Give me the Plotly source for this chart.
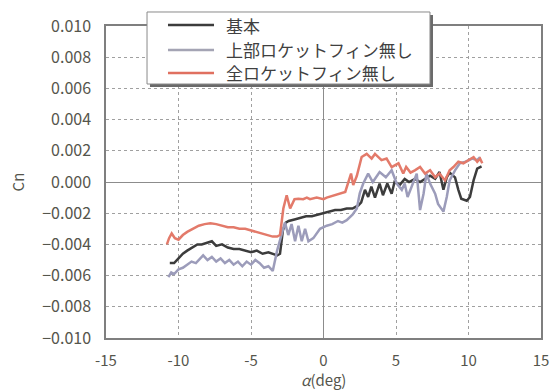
import plotly.graph_objects as go

# 基本
x_base = [-10.6, -10.3, -10.0, -9.7, -9.4, -9.0, -8.7, -8.4, -8.0, -7.7, -7.4, -7.0, -6.6, -6.2,
          -5.8, -5.4, -5.0, -4.6, -4.2, -3.8, -3.5, -3.2, -3.0, -2.8, -2.6, -2.4, -2.0, -1.6,
          -1.2, -0.8, -0.4, 0.0, 0.4, 0.8, 1.2, 1.6, 2.0, 2.4, 2.6, 2.86, 3.08, 3.3, 3.55, 3.87,
          4.1, 4.4, 4.7, 4.9, 5.25, 5.6, 5.9, 6.3, 6.66, 7.0, 7.35, 7.7, 8.0, 8.27, 8.5, 8.7,
          9.07, 9.3, 9.5, 9.88, 10.1, 10.35, 10.6, 10.9]
y_base = [-0.0052, -0.0052, -0.0049, -0.0046, -0.0044, -0.0042, -0.0040, -0.0040, -0.0039,
          -0.0038, -0.0041, -0.0040, -0.0042, -0.0043, -0.0043, -0.0044, -0.0045, -0.0044,
          -0.0046, -0.0045, -0.0046, -0.0047, -0.0046, -0.0031, -0.0026, -0.0025, -0.0024,
          -0.0023, -0.0022, -0.0022, -0.0021, -0.0020, -0.0019, -0.0018, -0.0018, -0.0017,
          -0.0017, -0.0015, -0.0013, -0.0005, -0.00096, -0.0003, -0.0010, -0.0001, -0.00085,
          -0.0001, -0.00075, 0.0, -0.0002, 0.0002, 0.0, 0.0002, 0.0, 0.0002, 0.0004, 0.0002,
          0.00064, -0.0005, 0.0003, 0.0006, 0.0003, -0.0005, -0.00107, -0.0012, -0.00096,
          0.0001, 0.00086, 0.0010]

# 上部ロケットフィン無し
x_upper = [-10.7, -10.5, -10.3, -10.0, -9.7, -9.4, -9.1, -8.8, -8.5, -8.3, -8.0, -7.7, -7.4,
           -7.1, -6.8, -6.5, -6.2, -5.9, -5.6, -5.3, -5.0, -4.7, -4.4, -4.1, -3.8, -3.5, -3.2,
           -2.9, -2.66, -2.43, -2.2, -1.96, -1.73, -1.5, -1.27, -1.04, -0.7, -0.24, 0.22, 0.6,
           1.0, 1.3, 1.6, 2.0, 2.3, 2.5, 2.74, 3.08, 3.4, 3.87, 4.3, 4.7, 5.05, 5.4, 5.6, 5.8,
           6.1, 6.43, 6.66, 6.9, 7.1, 7.35, 7.7, 7.9, 8.27, 8.5, 8.7, 9.07, 9.4, 9.8, 10.25,
           10.6, 10.8]
y_upper = [-0.0061, -0.0058, -0.0059, -0.0056, -0.0055, -0.0053, -0.0051, -0.0052, -0.0049,
           -0.0047, -0.0050, -0.0048, -0.0051, -0.0049, -0.0052, -0.0050, -0.0053, -0.0051,
           -0.0054, -0.0051, -0.0053, -0.0050, -0.0052, -0.0055, -0.0054, -0.0057, -0.0044,
           -0.0033, -0.0026, -0.0034, -0.0027, -0.0038, -0.0028, -0.0038, -0.0030, -0.0038,
           -0.0036, -0.0030, -0.0028, -0.0027, -0.0025, -0.0026, -0.00245, -0.0021, -0.0017,
           -0.00073, -0.0001, 0.00054, 0.0, 0.00064, 0.0003, 0.00075, -0.0001, -0.0005,
           -0.0001, -0.00096, -0.0002, 0.00054, -0.0018, -0.00075, 0.00054, -0.0001, -0.00075,
           -0.0014, -0.0019, -0.00096, 0.0001, 0.00075, 0.0012, 0.0013, 0.0015, 0.0014, 0.0016]

# 全ロケットフィン無し
x_all = [-10.8, -10.65, -10.47, -10.25, -10.0, -9.7, -9.4, -9.0, -8.6, -8.2, -7.8, -7.4, -7.0,
         -6.6, -6.2, -5.8, -5.4, -5.0, -4.6, -4.2, -3.8, -3.5, -3.2, -3.0, -2.77, -2.54, -2.3,
         -2.0, -1.73, -1.4, -1.15, -0.93, -0.47, 0.0, 0.22, 0.6, 1.0, 1.5, 1.9, 2.05, 2.3, 2.63,
         2.98, 3.32, 3.55, 4.0, 4.35, 4.7, 5.17, 5.5, 5.7, 6.0, 6.3, 6.66, 7.0, 7.35, 7.7, 8.0,
         8.38, 8.7, 8.96, 9.3, 9.65, 10.0, 10.35, 10.6, 10.8, 10.95]
y_all = [-0.0040, -0.0036, -0.0033, -0.0036, -0.0037, -0.0034, -0.0032, -0.0030, -0.0028,
         -0.0027, -0.00265, -0.0027, -0.0028, -0.0029, -0.0029, -0.0030, -0.0030, -0.0031,
         -0.0032, -0.0033, -0.0034, -0.0035, -0.0035, -0.0034, -0.0017, -0.00085, -0.0017,
         -0.0011, -0.00107, -0.0011, -0.0010, -0.0011, -0.0010, -0.0011, -0.0010, -0.0009,
         -0.0008, -0.00064, 0.00054, -0.0002, 0.0004, 0.0016, 0.0018, 0.0015, 0.0018, 0.0014,
         0.0015, 0.00096, 0.0012, 0.00054, 0.00096, 0.0006, 0.00075, 0.00096, 0.00054,
         0.00075, 0.0003, 0.00054, 0.0001, 0.00075, 0.00096, 0.0013, 0.0012, 0.0014, 0.0016,
         0.0013, 0.0015, 0.0012]

x_ticks = [-15, -10, -5, 0, 5, 10, 15]
y_ticks = [0.010, 0.008, 0.006, 0.004, 0.002, 0.000, -0.002, -0.004, -0.006, -0.008, -0.010]

series_names = ["基本", "上部ロケットフィン無し", "全ロケットフィン無し"]
series_colors = ["#3c3c3c", "#9c9cba", "#e37a6a"]
legend_colors = ["#3c3c3c", "#a4a4b4", "#e07060"]

FONT = "Noto Sans CJK JP"
TICK_COLOR = "#55554c"

fig = go.Figure()
for xs, ys, name, color in zip([x_base, x_upper, x_all], [y_base, y_upper, y_all],
                               series_names, series_colors):
    fig.add_trace(go.Scatter(x=xs, y=ys, mode="lines", name=name,
                             line=dict(color=color, width=2.5)))

axis_common = dict(
    showline=True, linecolor="#7f7f7f", linewidth=1.5, mirror=True,
    showgrid=True, gridcolor="#a0a0a0", griddash="dot", gridwidth=1,
    zeroline=True, zerolinecolor="#8c8c8c", zerolinewidth=1.2,
    ticks="", automargin=False,
)

fig.update_xaxes(range=[-15, 15], tickvals=x_ticks, ticktext=[str(v) for v in x_ticks],
                 ticklabelstandoff=8, tickfont=dict(family=FONT, size=15, color=TICK_COLOR),
                 **axis_common)
fig.update_yaxes(range=[-0.010, 0.010], tickvals=y_ticks, tickformat=".3f",
                 ticklabelstandoff=10, tickfont=dict(family=FONT, size=16, color=TICK_COLOR),
                 title=dict(text="Cn", font=dict(family=FONT, size=15, color=TICK_COLOR),
                            standoff=14),
                 **axis_common)

# x-axis caption below the tick labels
fig.add_annotation(xref="paper", yref="paper", x=0.5, y=-0.1346,
                   xanchor="center", yanchor="middle", text="<i>α</i>(deg)",
                   showarrow=False, font=dict(family=FONT, size=15, color=TICK_COLOR))

# boxed key in the upper left, with a drop shadow
fig.add_shape(type="rect", xref="paper", yref="paper",
              x0=0.1011, x1=0.7517, y0=0.8045, y1=1.0353,
              fillcolor="#6a6a6a", line=dict(width=0), layer="above")
fig.add_shape(type="rect", xref="paper", yref="paper",
              x0=0.0943, x1=0.7448, y0=0.8141, y1=1.0449,
              fillcolor="white", line=dict(color="#8a8a8a", width=1), layer="above")
row_y = [1.0032, 0.9231, 0.8494]
for yy, name, color in zip(row_y, series_names, legend_colors):
    fig.add_shape(type="line", xref="paper", yref="paper",
                  x0=0.1425, x1=0.2483, y0=yy, y1=yy,
                  line=dict(color=color, width=2.5), layer="above")
    fig.add_annotation(xref="paper", yref="paper", x=0.2713, y=yy,
                       xanchor="left", yanchor="middle", text=name, showarrow=False,
                       font=dict(family=FONT, size=17, color="#404040"))

fig.update_layout(
    width=550, height=391,
    margin=dict(l=106, r=9, t=26, b=53),
    paper_bgcolor="white", plot_bgcolor="white",
    font=dict(family=FONT, color="#444444"),
    showlegend=False,
)

fig.write_html("out.html")
